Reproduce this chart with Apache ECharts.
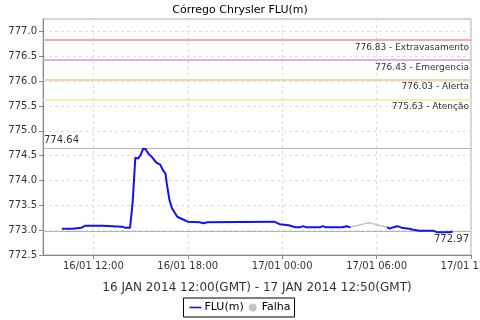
<!DOCTYPE html>
<html><head><meta charset="utf-8">
<script src="https://cdn.jsdelivr.net/npm/echarts@6/dist/echarts.min.js"></script>
<style>html,body{margin:0;padding:0;background:#fff}#c{width:480px;height:320px}</style>
</head><body><div id="c"></div>
<script>
// times are "day hh:mm" (January 2014)
const fluTimes = ['16 10:00','16 10:40','16 10:45','16 11:15','16 11:30','16 12:35','16 12:40','16 13:50','16 14:00','16 14:20','16 14:30','16 14:40','16 14:50','16 15:00','16 15:10','16 15:20','16 15:30','16 15:45','16 16:00','16 16:15','16 16:25','16 16:35','16 16:40','16 16:50','16 17:00','16 17:20','16 17:40','16 18:00','16 18:45','16 19:00','16 19:15','16 23:30','16 23:50','17 00:25','17 00:50','17 01:10','17 01:20','17 01:30','17 02:25','17 02:35','17 02:45','17 03:50','17 04:05','17 04:20',null,'17 06:40','17 06:50','17 07:05','17 07:20','17 07:35','17 08:05','17 08:20','17 08:45','17 09:35','17 09:50','17 10:35','17 10:50'];
const fluValues = [773.03,773.03,773.05,773.05,773.09,773.09,773.07,773.07,773.05,773.05,773.57,774.46,774.44,774.51,774.64,774.63,774.54,774.46,774.36,774.32,774.21,774.14,773.94,773.61,773.44,773.27,773.22,773.17,773.16,773.14,773.16,773.17,773.12,773.10,773.06,773.06,773.08,773.06,773.06,773.08,773.06,773.06,773.08,773.06,null,773.06,773.03,773.06,773.08,773.05,773.03,773.01,772.99,772.99,772.96,772.96,772.97];
const falhaTimes = ['17 04:20','17 05:30','17 06:40'];
const falhaValues = [773.06,773.15,773.06];
const thresholdValues = [776.83,776.43,776.03,775.63];
const thresholdNames = ['Extravasamento','Emergencia','Alerta','Atenção'];
const thresholdColors = ['#f09090','#e888e8','#f5c496','#f8e49a'];
const maxValue = 774.64;
const lastValue = 772.97;
const xTickHours = [12,18,24,30,36];
const xTickLabels = ['16/01 12:00','16/01 18:00','17/01 00:00','17/01 06:00','17/01 12:00'];
const yTicks = [772.5,773.0,773.5,774.0,774.5,775.0,775.5,776.0,776.5,777.0];

function toHours(s){ const [d,hm]=s.split(' '); const [h,m]=hm.split(':').map(Number); return (Number(d)-16)*24+h+m/60; }
const fluData = fluTimes.map((t,i)=> t===null ? [null,null] : [toHours(t), fluValues[i]]);
const falhaData = falhaTimes.map((t,i)=>[toHours(t), falhaValues[i]]);

const font = 'DejaVu Sans';
const thresholdLines = thresholdValues.map((v,i)=>({
  yAxis: v,
  lineStyle:{color:thresholdColors[i], type:'solid', width:1.5},
  label:{show:true, position:'insideEndBottom', formatter: v.toFixed(2)+' - '+thresholdNames[i], color:'#333', fontSize:9, fontFamily:font, distance:[2,3]}
}));

const chart = echarts.init(document.getElementById('c'), null, {renderer:'canvas'});
chart.setOption({
  animation:false,
  backgroundColor:'#fff',
  title:{text:'Córrego Chrysler FLU(m)', left:'center', top:0, textStyle:{fontFamily:font, fontSize:11, fontWeight:'normal', color:'#000'}},
  grid:{left:43, right:9, top:19, bottom:65, containLabel:false, outerBoundsMode:'none', show:true, borderColor:'#aaa', borderWidth:1},
  legend:{bottom:3, left:'center', borderColor:'#000', borderWidth:1, padding:[4,4,4,6], itemGap:5, itemWidth:12, itemHeight:8,
    textStyle:{fontFamily:font, fontSize:11, color:'#000', padding:[0,0,0,-2]},
    data:[{name:'FLU(m)', icon:'path://M0,0 M0,3.7 L20,3.7 L20,6.3 L0,6.3 Z M20,10', itemStyle:{color:'#1010ff', borderWidth:0, opacity:1}},
          {name:'Falha', icon:'circle', itemStyle:{color:'#c4c4c4', borderWidth:0}}]},
  xAxis:{type:'value', min:8.8, max:36,
    name:'16 JAN 2014 12:00(GMT) - 17 JAN 2014 12:50(GMT)', nameLocation:'middle', nameGap:27,
    nameTextStyle:{fontFamily:font, fontSize:12, color:'#333'},
    axisLine:{lineStyle:{color:'#888'}},
    axisTick:{show:true, length:4, customValues:xTickHours, lineStyle:{color:'#888'}},
    axisLabel:{customValues:xTickHours, fontFamily:font, fontSize:10, color:'#333', margin:6,
      formatter:(v)=>{const i=xTickHours.indexOf(Math.round(v)); return i>=0?xTickLabels[i]:'';}},
    splitLine:{show:true, lineStyle:{color:'#ddd', type:[3,3]}}},
  yAxis:{type:'value', min:772.5, max:777.25,
    axisLine:{show:true, lineStyle:{color:'#888'}},
    axisTick:{show:true, length:4, customValues:yTicks, lineStyle:{color:'#888'}},
    axisLabel:{customValues:yTicks, fontFamily:font, fontSize:10, color:'#333', margin:6, formatter:(v)=>v.toFixed(1)},
    splitLine:{show:true, lineStyle:{color:'#ddd', type:[3,3]}}},
  series:[
    {name:'FLU(m)', type:'line', data:fluData, connectNulls:false, symbol:'none', showSymbol:false,
      lineStyle:{color:'#1010ff', width:2}, itemStyle:{color:'#1010ff'}, z:5,
      markLine:{silent:true, symbol:'none', data:[
        ...thresholdLines,
        {yAxis:maxValue, lineStyle:{color:'#b4b4b4', type:'solid', width:1.2},
          label:{show:true, position:'insideStartTop', formatter:maxValue.toFixed(2), color:'#333', fontSize:10, fontFamily:font, distance:[1,3]}},
        {yAxis:lastValue, lineStyle:{color:'#b4b4b4', type:'solid', width:1.2},
          label:{show:true, position:'insideEndBottom', formatter:lastValue.toFixed(2), color:'#333', fontSize:10, fontFamily:font, distance:[2,3]}}
      ]}},
    {name:'Falha', type:'line', data:falhaData, symbol:'none', showSymbol:false,
      lineStyle:{color:'#c4c4c4', width:1.5}, itemStyle:{color:'#c4c4c4'}, z:4}
  ]
});
</script></body></html>
